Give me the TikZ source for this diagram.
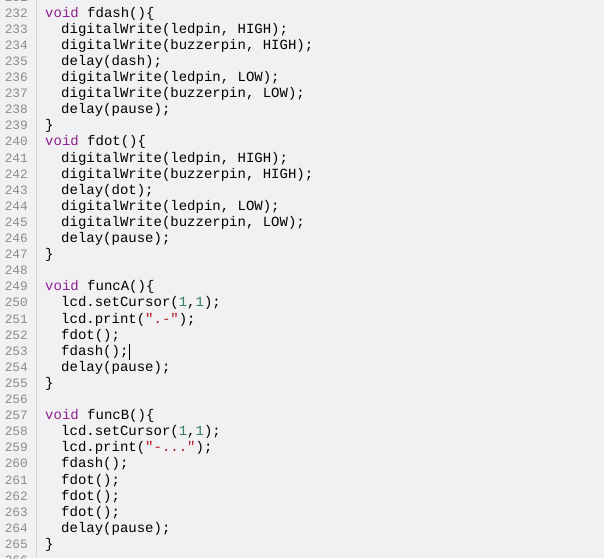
\documentclass[tikz,border=0pt]{standalone}
\usepackage{fontspec}
\setmonofont{Liberation Mono}
\definecolor{bgc}{HTML}{F1F1F3}
\definecolor{numc}{HTML}{8C8C8C}
\definecolor{kw}{HTML}{8E1F8E}
\definecolor{nm}{HTML}{2E7D5B}
\definecolor{st}{HTML}{B0181E}
\definecolor{sep}{HTML}{D6D6D8}
\newcommand{\kw}[1]{\textcolor{kw}{#1}}
\newcommand{\nm}[1]{\textcolor{nm}{#1}}
\newcommand{\st}[1]{\textcolor{st}{#1}}
\tikzset{
  codeline/.style={anchor=mid west,inner sep=0pt,font=\fontsize{14}{16}\ttfamily,text=black},
  lnum/.style={anchor=mid east,inner sep=0pt,font=\fontsize{12.8}{15}\ttfamily,text=numc},
}
\begin{document}
\begin{tikzpicture}[x=1pt,y=-1pt]
\useasboundingbox (0,0) rectangle (604,558);
\clip (0,0) rectangle (604,558);
\fill[bgc] (0,0) rectangle (604,558);
\draw[sep,line width=1pt] (36,0) -- (36,558);
\foreach \n in {231,...,266} {
  \pgfmathsetmacro{\yy}{15+16.1*(\n-232)}
  \node[lnum] (n\n) at (28,\yy) {\n};
}
\def\L#1#2#3{\node[codeline] (c#1) at (#2,{15+16.1*(#1-232)}) {#3};}
\L{232}{45}{\kw{void} fdash()\{}
\L{233}{61}{digitalWrite(ledpin, HIGH);}
\L{234}{61}{digitalWrite(buzzerpin, HIGH);}
\L{235}{61}{delay(dash);}
\L{236}{61}{digitalWrite(ledpin, LOW);}
\L{237}{61}{digitalWrite(buzzerpin, LOW);}
\L{238}{61}{delay(pause);}
\L{239}{45}{\}}
\L{240}{45}{\kw{void} fdot()\{}
\L{241}{61}{digitalWrite(ledpin, HIGH);}
\L{242}{61}{digitalWrite(buzzerpin, HIGH);}
\L{243}{61}{delay(dot);}
\L{244}{61}{digitalWrite(ledpin, LOW);}
\L{245}{61}{digitalWrite(buzzerpin, LOW);}
\L{246}{61}{delay(pause);}
\L{247}{45}{\}}
\L{249}{45}{\kw{void} funcA()\{}
\L{250}{61}{lcd.setCursor(\nm{1},\nm{1});}
\L{251}{61}{lcd.print(\st{".-"});}
\L{252}{61}{fdot();}
\L{253}{61}{fdash();}
\L{254}{61}{delay(pause);}
\L{255}{45}{\}}
\L{257}{45}{\kw{void} funcB()\{}
\L{258}{61}{lcd.setCursor(\nm{1},\nm{1});}
\L{259}{61}{lcd.print(\st{"-..."});}
\L{260}{61}{fdash();}
\L{261}{61}{fdot();}
\L{262}{61}{fdot();}
\L{263}{61}{fdot();}
\L{264}{61}{delay(pause);}
\L{265}{45}{\}}
\coordinate (cur) at ([xshift=1pt]c253.east);
\draw[black,line width=0.8pt] ([yshift=-8pt]cur) -- ([yshift=8pt]cur);
\end{tikzpicture}
\end{document}
